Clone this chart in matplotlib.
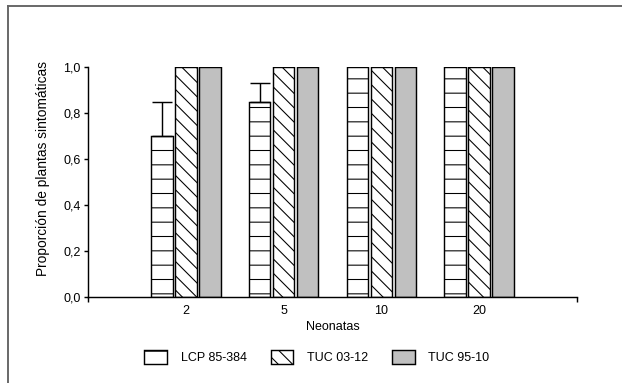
import numpy as np
import matplotlib
matplotlib.use('Agg')
import matplotlib.pyplot as plt
from matplotlib.lines import Line2D

plt.rcParams['font.family'] = ['Liberation Sans', 'DejaVu Sans']
plt.rcParams['hatch.linewidth'] = 0.9

# ======================================
# Data
# ======================================
neonatas = ['2', '5', '10', '20']
lcp = [0.70, 0.85, 1.0, 1.0]
lcp_err = [0.15, 0.08, 0.0, 0.0]
tuc0312 = [1.0, 1.0, 1.0, 1.0]
tuc9510 = [1.0, 1.0, 1.0, 1.0]
series_names = ['LCP 85-384', 'TUC 03-12', 'TUC 95-10']

# ======================================
# Figure
# ======================================
dpi = 86
fig = plt.figure(figsize=(622/dpi, 383/dpi), dpi=dpi)
ax = fig.add_axes([88/622, 1-297/383, 489/622, 230/383])

x = np.arange(1, len(neonatas)+1)
w = 0.22
off = 0.245
kw = dict(edgecolor='black', linewidth=1.2)
b1 = ax.bar(x-off, lcp, w, color='white', hatch='-', label=series_names[0], **kw)
b2 = ax.bar(x, tuc0312, w, color='white', hatch='\\\\', label=series_names[1], **kw)
b3 = ax.bar(x+off, tuc9510, w, color='#c0c0c0', label=series_names[2], **kw)

# upper error bars only, where there is one
e = np.array(lcp_err)
m = e > 0
ax.errorbar((x-off)[m], np.array(lcp)[m], yerr=[np.zeros(m.sum()), e[m]],
            fmt='none', ecolor='black', elinewidth=1.2, capsize=8.4, capthick=1.2)

ax.set_xlim(0, 5)
ax.set_ylim(0, 1)
ax.set_xticks(x)
ax.set_xticklabels(neonatas)
ax.set_xticks([0, 5], minor=True)
ax.tick_params(axis='x', which='major', length=0, pad=7, labelsize=10.5)
ax.tick_params(axis='x', which='minor', length=4, width=1.2, direction='out')
ax.set_yticks(np.arange(0, 1.01, 0.2))
ax.set_yticklabels(['0,0', '0,2', '0,4', '0,6', '0,8', '1,0'])
ax.tick_params(axis='y', length=3, width=1.2, labelsize=10.5, pad=3)

for s in ['top', 'right']:
    ax.spines[s].set_visible(False)
for s in ['left', 'bottom']:
    ax.spines[s].set_linewidth(1.2)

ax.set_xlabel('Neonatas', fontsize=10.5, labelpad=3)
fig.text(43/622, 1-168/383, 'Proporción de plantas sintomáticas', rotation=90,
         ha='center', va='center', fontsize=11.5)

fig.legend(handles=[b1, b2, b3], loc='center', bbox_to_anchor=(317/622, 1-357/383),
           ncol=3, frameon=False, fontsize=10.5, handlelength=1.8, handleheight=1.4,
           handletextpad=1.1, columnspacing=1.9)

# outer frame (left and top only)
fig.add_artist(Line2D([8/622, 8/622], [0, 1-6/383], color='#666666', linewidth=1.6))
fig.add_artist(Line2D([8/622, 1], [1-6/383, 1-6/383], color='#666666', linewidth=1.6))

fig.savefig('out.png', dpi=dpi)
